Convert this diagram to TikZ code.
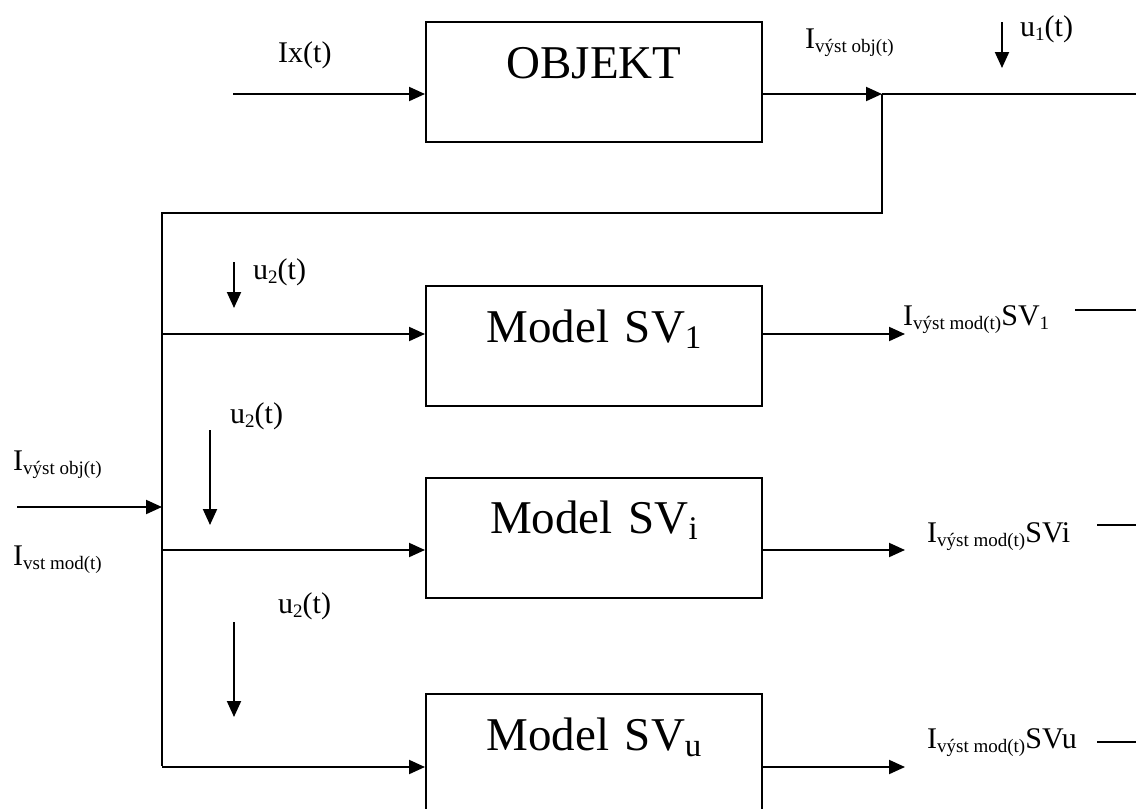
\documentclass[tikz,border=0pt]{standalone}
\usepackage{fontspec}
\setmainfont{Liberation Serif}
\usetikzlibrary{positioning,arrows.meta,calc}
\newcommand{\lo}[1]{\raisebox{-4pt}{\fontsize{19}{20}\selectfont #1}}
\newcommand{\blo}[1]{\raisebox{-6pt}{\fontsize{33}{34}\selectfont #1}}

\begin{document}
\begin{tikzpicture}[
    x=1pt, y=-1pt,
    blockStyle/.style={rectangle, draw=black, line width=2pt, inner sep=0pt,
        text width=336pt, align=center, text height=56pt, text depth=64pt,
        font=\fontsize{47}{50}\selectfont},
    lblStyle/.style={anchor=base west, inner sep=0pt, font=\fontsize{30}{32}\selectfont},
    sigStyle/.style={line width=2pt, -{Triangle[length=16pt, width=14pt]}},
    wireStyle/.style={line width=2pt}
]
    \useasboundingbox (0,0) rectangle (1136,809);

    % Blocks
    \node[blockStyle] (obj) at (594, 82) {OBJEKT};
    \node[blockStyle] (sv1) at (594, 346) {Model SV\blo{1}};
    \node[blockStyle] (svi) at (594, 537.5) {Model SV\blo{i}};
    \node[blockStyle] (svu) at (594, 754) {Model SV\blo{u}};

    % Free ends and branch points
    \coordinate (ixIn) at (233, 94);
    \coordinate (tap) at (882, 94);
    \coordinate (outR) at (1136, 94);
    \coordinate (busT) at (162, 213);
    \coordinate (busB) at (162, 766);
    \coordinate (b1) at (162, 334);
    \coordinate (bi) at (162, 550);
    \coordinate (bu) at (162, 767);
    \coordinate (extIn) at (17, 507);
    \coordinate (extBus) at (162, 507);
    \coordinate (o1) at (905, 334);
    \coordinate (oi) at (905, 550);
    \coordinate (ou) at (905, 767);

    % Object path
    \draw[sigStyle] (ixIn) -- (ixIn -| obj.west);
    \draw[sigStyle] (tap -| obj.east) -- (tap);
    \draw[wireStyle] (tap) -- (outR);
    \draw[wireStyle] (tap) |- (busT) -- (busB);

    % Model inputs
    \draw[sigStyle] (b1) -- (b1 -| sv1.west);
    \draw[sigStyle] (bi) -- (bi -| svi.west);
    \draw[sigStyle] (bu) -- (bu -| svu.west);
    \draw[sigStyle] (extIn) -- (extBus);

    % Model outputs
    \draw[sigStyle] (o1 -| sv1.east) -- (o1);
    \draw[sigStyle] (oi -| svi.east) -- (oi);
    \draw[sigStyle] (ou -| svu.east) -- (ou);
    \draw[wireStyle] (1075, 310) coordinate (r1) -- (1136, 310) coordinate (r1e);
    \draw[wireStyle] (1097, 525) coordinate (ri) -- (1136, 525) coordinate (rie);
    \draw[wireStyle] (1097, 742) coordinate (ru) -- (1136, 742) coordinate (rue);

    % Disturbances
    \draw[sigStyle] (1002, 22) coordinate (u1s) -- (1002, 68) coordinate (u1e);
    \draw[sigStyle] (234, 262) coordinate (u2s) -- (234, 308) coordinate (u2e);
    \draw[sigStyle] (210, 430) coordinate (u3s) -- (210, 525) coordinate (u3e);
    \draw[sigStyle] (234, 622) coordinate (u4s) -- (234, 717) coordinate (u4e);

    % Labels
    \node[lblStyle] (lIx) at (278, 62) {Ix(t)};
    \node[lblStyle] (lObj) at (805, 48) {I\lo{výst obj(t)}};
    \node[lblStyle] (lU1) at (1020, 36) {u\lo{1}(t)};
    \node[lblStyle] (lU2) at (253, 279) {u\lo{2}(t)};
    \node[lblStyle] (lU3) at (230, 423) {u\lo{2}(t)};
    \node[lblStyle] (lU4) at (278, 613) {u\lo{2}(t)};
    \node[lblStyle] (lInA) at (13, 470) {I\lo{výst obj(t)}};
    \node[lblStyle] (lInB) at (13, 565) {I\lo{vst mod(t)}};
    \node[lblStyle] (lO1) at (903, 325) {I\lo{výst mod(t)}SV\lo{1}};
    \node[lblStyle] (lOi) at (927, 542) {I\lo{výst mod(t)}SVi};
    \node[lblStyle] (lOu) at (927, 748) {I\lo{výst mod(t)}SVu};
\end{tikzpicture}
\end{document}
